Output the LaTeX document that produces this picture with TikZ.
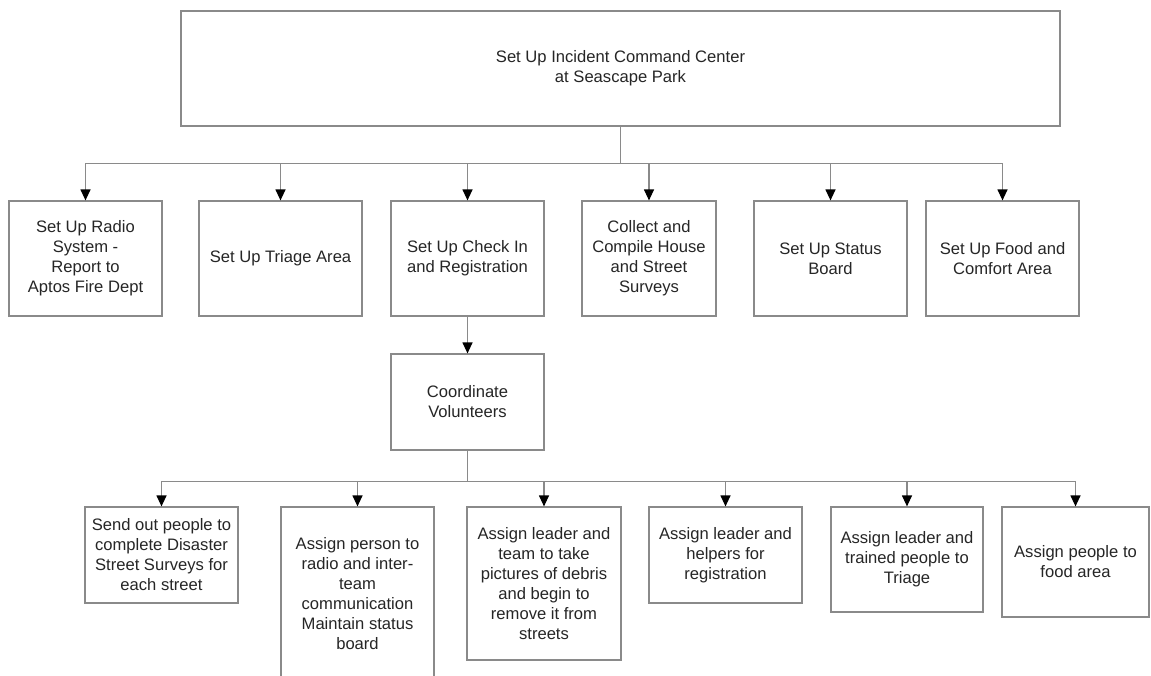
\documentclass[tikz,border=0pt]{standalone}
\usepackage{fontspec}
\setmainfont{Liberation Sans}
\usetikzlibrary{arrows.meta}
\definecolor{edge}{HTML}{8A8A8A}
\definecolor{txt}{HTML}{262626}
\tikzset{
  box/.style={draw=edge, line width=1.2pt, rectangle, inner sep=0pt, align=center,
    text=txt, font=\fontsize{16.6}{20}\selectfont},
  arr/.style={draw=edge, line width=1.2pt, -{Triangle[width=10pt,length=11pt,color=black,fill=black]}},
  ln/.style={draw=edge, line width=1.2pt}
}
\begin{document}
\begin{tikzpicture}[x=1pt,y=-1pt]
\clip (0,0) rectangle (1151,675);
\fill[white] (0,0) rectangle (1151,675);
% top
\node[box, minimum width=879pt, minimum height=115pt] (top) at (620.5,68.5) {Set Up Incident Command Center\\at Seascape Park};
% second row
\node[box, minimum width=153pt, minimum height=115pt] (t1) at (85.5,258.5) {Set Up Radio\\System -\\Report to\\Aptos Fire Dept};
\node[box, minimum width=163pt, minimum height=115pt] (t2) at (280.5,258.5) {Set Up Triage Area};
\node[box, minimum width=153pt, minimum height=115pt] (t3) at (467.5,258.5) {Set Up Check In\\and Registration};
\node[box, minimum width=134pt, minimum height=115pt] (t4) at (649,258.5) {Collect and\\Compile House\\and Street\\Surveys};
\node[box, minimum width=153pt, minimum height=115pt] (t5) at (830.5,258.5) {Set Up Status\\Board};
\node[box, minimum width=153pt, minimum height=115pt] (t6) at (1002.5,258.5) {Set Up Food and\\Comfort Area};
% coordinate
\node[box, minimum width=153pt, minimum height=96pt] (cv) at (467.5,402) {Coordinate\\Volunteers};
% bottom row
\node[box, minimum width=153pt, minimum height=96pt] (b1) at (161.5,555) {Send out people to\\complete Disaster\\Street Surveys for\\each street};
\node[box, minimum width=153pt, minimum height=173pt] (b2) at (357.5,593.5) {Assign person to\\radio and inter-\\team\\communication\\Maintain status\\board};
\node[box, minimum width=154pt, minimum height=153pt] (b3) at (544,583.5) {Assign leader and\\team to take\\pictures of debris\\and begin to\\remove it from\\streets};
\node[box, minimum width=153pt, minimum height=96pt] (b4) at (725.5,555) {Assign leader and\\helpers for\\registration};
\node[box, minimum width=152pt, minimum height=105pt] (b5) at (907,559.5) {Assign leader and\\trained people to\\Triage};
\node[box, minimum width=147pt, minimum height=110pt] (b6) at (1075.5,562) {Assign people to\\food area};
% connectors top -> second row
\foreach \n in {t1,t2,t3,t4,t5,t6}
  \draw[arr] (top.south) -- ++(0,37) -| (\n.north);
% check in -> coordinate
\draw[arr] (t3.south) -- (cv.north);
% coordinate -> bottom row
\foreach \n in {b1,b2,b3,b4,b5,b6}
  \draw[arr] (cv.south) -- ++(0,31) -| (\n.north);
\end{tikzpicture}
\end{document}
